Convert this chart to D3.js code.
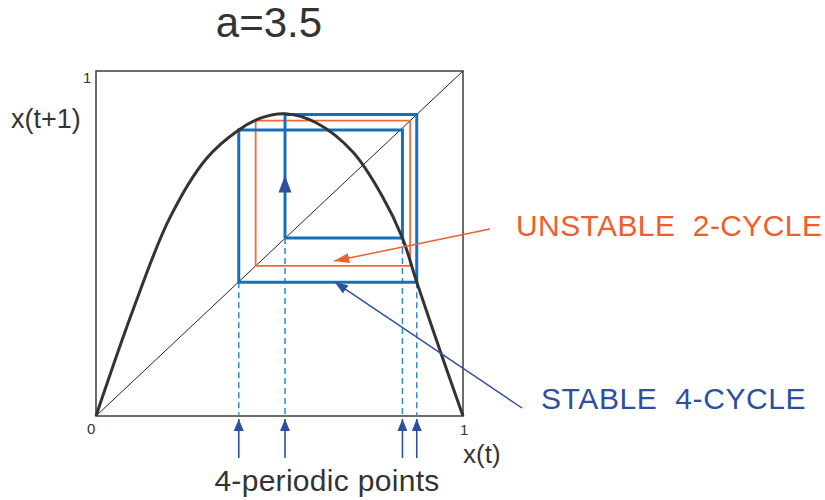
<!DOCTYPE html>
<html>
<head>
<meta charset="utf-8">
<script src="https://cdn.jsdelivr.net/npm/d3@7"></script>
<style>
  html, body { margin: 0; padding: 0; background: #fff; }
  svg { display: block; font-family: "Liberation Sans", Arial, Helvetica, sans-serif; }
</style>
</head>
<body>
<svg id="chart" width="825" height="500"></svg>
<script>
// Logistic map x(t+1) = a x(t) (1 - x(t)), a = 3.5 — cobweb view.
const title = "a=3.5";

// map curve samples (x, f(x))
const curveX = [0, 0.1, 0.2, 0.3, 0.389, 0.45, 0.515, 0.6, 0.7, 0.78, 0.835, 0.874, 0.94, 1];
const curveY = [0, 0.305, 0.572, 0.745, 0.829, 0.864, 0.876, 0.850, 0.765, 0.637, 0.516, 0.388, 0.182, 0];

// stable 4-cycle: cobweb path vertices
const cycle4X = [0.515, 0.515, 0.874, 0.874, 0.389, 0.389, 0.835, 0.835, 0.515];
const cycle4Y = [0.516, 0.874, 0.874, 0.388, 0.388, 0.829, 0.829, 0.516, 0.516];

// the four periodic points and where their dashed drop lines start
const periodicX = [0.389, 0.515, 0.835, 0.874];
const periodicY = [0.388, 0.516, 0.516, 0.388];

// unstable 2-cycle
const cycle2 = [0.435, 0.856];

const axisTicks = ["0", "1"];
const labelUnstable = "UNSTABLE  2-CYCLE";
const labelStable = "STABLE  4-CYCLE";
const labelBottom = "4-periodic points";

const svg = d3.select("#chart");
const x = d3.scaleLinear().domain([0, 1]).range([96, 463]);
const y = d3.scaleLinear().domain([0, 1]).range([416, 71]);

const BLUE = "#1670b8";
const DASH = "#2f8ad0";
const NAVY = "#2d4f9f";
const ORANGE = "#f15d2e";
const ORANGE_LINE = "#f26a3c";
const INK = "#333";

// arrow heads
const defs = svg.append("defs");
function marker(id, color, len, wid) {
  defs.append("marker")
    .attr("id", id)
    .attr("viewBox", `0 0 ${len} ${wid}`)
    .attr("refX", len).attr("refY", wid / 2)
    .attr("markerWidth", len).attr("markerHeight", wid)
    .attr("markerUnits", "userSpaceOnUse")
    .attr("orient", "auto")
    .append("path")
    .attr("d", `M0,0 L${len},${wid / 2} L0,${wid} Z`)
    .attr("fill", color);
}
marker("headNavy", NAVY, 12, 10);
marker("headOrange", ORANGE, 15, 10);
marker("headNavyBig", NAVY, 13, 10);

// frame
svg.append("rect")
  .attr("x", x(0)).attr("y", y(1))
  .attr("width", x(1) - x(0)).attr("height", y(0) - y(1))
  .attr("fill", "none").attr("stroke", "#3c3c3c").attr("stroke-width", 1.5);

// diagonal x(t+1) = x(t)
svg.append("line")
  .attr("x1", x(0)).attr("y1", y(0)).attr("x2", x(1)).attr("y2", y(1))
  .attr("stroke", "#222").attr("stroke-width", 1);

// dashed drop lines
svg.selectAll(".drop").data(periodicX).join("line")
  .attr("class", "drop")
  .attr("x1", d => x(d)).attr("x2", d => x(d))
  .attr("y1", (d, i) => y(periodicY[i])).attr("y2", y(0))
  .attr("stroke", DASH).attr("stroke-width", 1.5)
  .attr("stroke-dasharray", "6,4");

// unstable 2-cycle square
const c2 = [[cycle2[0], cycle2[0]], [cycle2[0], cycle2[1]], [cycle2[1], cycle2[1]], [cycle2[1], cycle2[0]], [cycle2[0], cycle2[0]]];
svg.append("path")
  .attr("d", d3.line().x(d => x(d[0])).y(d => y(d[1]))(c2))
  .attr("fill", "none").attr("stroke", ORANGE_LINE).attr("stroke-width", 1.8);

// stable 4-cycle cobweb
const c4 = cycle4X.map((v, i) => [v, cycle4Y[i]]);
svg.append("path")
  .attr("d", d3.line().x(d => x(d[0])).y(d => y(d[1]))(c4))
  .attr("fill", "none").attr("stroke", BLUE).attr("stroke-width", 3)
  .attr("stroke-linejoin", "miter");

// direction arrow on the rising leg
const tipY = y(0.697);
svg.append("path")
  .attr("d", `M${x(0.515)},${tipY} L${x(0.515) + 6.5},${tipY + 17} L${x(0.515) - 6.5},${tipY + 17} Z`)
  .attr("fill", NAVY);

// map curve
const pts = curveX.map((v, i) => [v, curveY[i]]);
svg.append("path")
  .attr("d", d3.line().x(d => x(d[0])).y(d => y(d[1])).curve(d3.curveCatmullRom.alpha(0.5))(pts))
  .attr("fill", "none").attr("stroke", INK).attr("stroke-width", 3);

// tick labels
svg.append("text").attr("x", x(0) - 9).attr("y", y(0) + 18)
  .attr("font-size", 15).attr("fill", INK).text(axisTicks[0]);
svg.append("text").attr("x", x(1) - 3).attr("y", y(0) + 19)
  .attr("font-size", 15).attr("fill", INK).text(axisTicks[1]);
svg.append("text").attr("x", x(0) - 13).attr("y", y(1) + 12)
  .attr("font-size", 15).attr("fill", INK).text(axisTicks[1]);

// axis titles
svg.append("text").attr("x", 11).attr("y", 128)
  .attr("font-size", 27).attr("fill", INK).text("x(t+1)");
svg.append("text").attr("x", 463).attr("y", 463)
  .attr("font-size", 26).attr("fill", INK).text("x(t)");

// title
svg.append("text").attr("x", 269).attr("y", 37).attr("text-anchor", "middle")
  .attr("font-size", 42).attr("fill", INK).text(title);

// periodic point arrows below the axis
svg.selectAll(".up").data(periodicX).join("line")
  .attr("class", "up")
  .attr("x1", d => x(d)).attr("x2", d => x(d))
  .attr("y1", 458).attr("y2", 419)
  .attr("stroke", NAVY).attr("stroke-width", 1.6)
  .attr("marker-end", "url(#headNavy)");

svg.append("text").attr("x", 327).attr("y", 491).attr("text-anchor", "middle")
  .attr("font-size", 30).attr("letter-spacing", 0.3).attr("fill", INK).text(labelBottom);

// annotations
svg.append("line")
  .attr("x1", 490).attr("y1", 229).attr("x2", x(0.649)).attr("y2", y(0.449))
  .attr("stroke", ORANGE).attr("stroke-width", 1.5)
  .attr("marker-end", "url(#headOrange)");
svg.append("text").attr("x", 516).attr("y", 236)
  .attr("font-size", 30).attr("letter-spacing", 0.4).attr("fill", ORANGE)
  .style("white-space", "pre").text(labelUnstable);

svg.append("line")
  .attr("x1", 522).attr("y1", 408).attr("x2", x(0.651)).attr("y2", y(0.388))
  .attr("stroke", NAVY).attr("stroke-width", 1.5)
  .attr("marker-end", "url(#headNavyBig)");
svg.append("text").attr("x", 541).attr("y", 409)
  .attr("font-size", 30).attr("letter-spacing", 0.6).attr("fill", NAVY)
  .style("white-space", "pre").text(labelStable);
</script>
</body>
</html>
